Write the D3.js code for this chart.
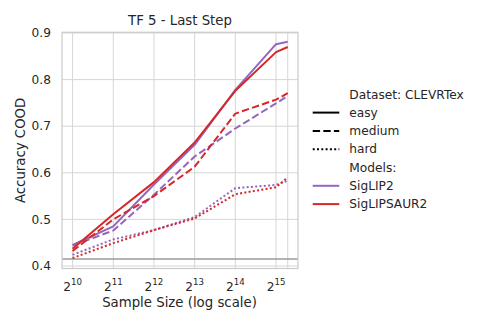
<!DOCTYPE html>
<html>
<head>
<meta charset="utf-8">
<script src="https://cdn.jsdelivr.net/npm/d3@7"></script>
<style>
  html, body { margin: 0; padding: 0; background: #fff; }
  svg { display: block; font-family: "DejaVu Sans", sans-serif; }
</style>
</head>
<body>
<svg id="chart" width="488" height="326"></svg>
<script>
const sampleSizes = [1024, 2048, 4096, 8192, 16384, 32768, 40000];
const xTickExponents = [10, 11, 12, 13, 14, 15];
const yTicks = [0.4, 0.5, 0.6, 0.7, 0.8, 0.9];
const baselineValue = 0.415;

const siglip2Easy   = [0.445, 0.485, 0.575, 0.660, 0.778, 0.876, 0.881];
const siglip2Medium = [0.444, 0.476, 0.553, 0.635, 0.695, 0.749, 0.765];
const siglip2Hard   = [0.424, 0.457, 0.477, 0.505, 0.567, 0.574, 0.583];
const saur2Easy     = [0.437, 0.511, 0.580, 0.665, 0.776, 0.859, 0.870];
const saur2Medium   = [0.432, 0.500, 0.550, 0.613, 0.727, 0.757, 0.771];
const saur2Hard     = [0.417, 0.449, 0.477, 0.502, 0.554, 0.569, 0.590];

const models = ["SigLIP2", "SigLIPSAUR2"];
const difficulties = ["easy", "medium", "hard"];
const modelColors = { "SigLIP2": "#9467bd", "SigLIPSAUR2": "#d62728" };
const dashes = { easy: null, medium: "7.4,3.2", hard: "2,2.3" };

const series = [
  { model: "SigLIP2", diff: "easy", values: siglip2Easy },
  { model: "SigLIP2", diff: "medium", values: siglip2Medium },
  { model: "SigLIP2", diff: "hard", values: siglip2Hard },
  { model: "SigLIPSAUR2", diff: "easy", values: saur2Easy },
  { model: "SigLIPSAUR2", diff: "medium", values: saur2Medium },
  { model: "SigLIPSAUR2", diff: "hard", values: saur2Hard },
];

const svg = d3.select("#chart");
const L = 62, R = 298, T = 32.3, B = 268.5;
const textColor = "#262626";
const tickFont = 12.2, labelFont = 13.3;

const x = d3.scaleLog().base(2).domain([Math.pow(2, 9.74), Math.pow(2, 15.54)]).range([L, R]);
const y = d3.scaleLinear().domain([0.3946, 0.9015]).range([B, T]);

// grid
const grid = svg.append("g");
grid.selectAll("line.gx").data(xTickExponents.map(e => Math.pow(2, e)).concat([sampleSizes[sampleSizes.length - 1]]))
  .enter().append("line")
  .attr("x1", d => x(d)).attr("x2", d => x(d)).attr("y1", T).attr("y2", B)
  .attr("stroke", "#d6d6d6").attr("stroke-width", 1);
grid.selectAll("line.gy").data(yTicks).enter().append("line")
  .attr("x1", L).attr("x2", R).attr("y1", d => y(d)).attr("y2", d => y(d))
  .attr("stroke", "#d6d6d6").attr("stroke-width", 1);

// baseline
svg.append("line")
  .attr("x1", L).attr("x2", R).attr("y1", y(baselineValue)).attr("y2", y(baselineValue))
  .attr("stroke", "#9a9a9a").attr("stroke-width", 1.5);

// lines
const line = d3.line().x((d, i) => x(sampleSizes[i])).y(d => y(d));
svg.append("clipPath").attr("id", "clip").append("rect")
  .attr("x", L).attr("y", T).attr("width", R - L).attr("height", B - T);
svg.append("g").attr("clip-path", "url(#clip)")
  .selectAll("path").data(series).enter().append("path")
  .attr("d", d => line(d.values))
  .attr("fill", "none")
  .attr("stroke", d => modelColors[d.model])
  .attr("stroke-width", 2)
  .attr("stroke-dasharray", d => dashes[d.diff])
  .attr("stroke-linejoin", "round");

// spines
svg.append("rect").attr("x", L).attr("y", T).attr("width", R - L).attr("height", B - T)
  .attr("fill", "none").attr("stroke", "#cccccc").attr("stroke-width", 1.25);

// y tick labels
svg.append("g").selectAll("text").data(yTicks).enter().append("text")
  .attr("x", L - 11).attr("y", d => y(d)).attr("dy", "0.35em")
  .attr("text-anchor", "end").attr("font-size", tickFont).attr("fill", textColor)
  .text(d => d.toFixed(1));

// x tick labels
const xt = svg.append("g").selectAll("text").data(xTickExponents).enter().append("text")
  .attr("x", d => x(Math.pow(2, d))).attr("y", 290.5)
  .attr("text-anchor", "middle").attr("font-size", tickFont).attr("fill", textColor);
xt.append("tspan").text("2");
xt.append("tspan").attr("font-size", 8.6).attr("dy", -5.8).text(d => d);

// axis labels & title
svg.append("text").attr("x", (L + R) / 2 - 0.5).attr("y", 306.5).attr("text-anchor", "middle")
  .attr("font-size", labelFont).attr("fill", textColor).text("Sample Size (log scale)");
svg.append("text").attr("transform", `translate(24.5,${(T + B) / 2}) rotate(-90)`)
  .attr("text-anchor", "middle").attr("font-size", labelFont).attr("fill", textColor).text("Accuracy COOD");
svg.append("text").attr("x", (L + R) / 2).attr("y", 24.5).attr("text-anchor", "middle")
  .attr("font-size", labelFont).attr("fill", textColor).text("TF 5 - Last Step");

// legend
const legendRows = [
  { label: "Dataset: CLEVRTex", handle: null },
  { label: "easy", handle: { color: "#000", dash: dashes.easy } },
  { label: "medium", handle: { color: "#000", dash: dashes.medium } },
  { label: "hard", handle: { color: "#000", dash: dashes.hard } },
  { label: "Models:", handle: null },
  { label: models[0], handle: { color: modelColors[models[0]], dash: null } },
  { label: models[1], handle: { color: modelColors[models[1]], dash: null } },
];
const lg = svg.append("g");
legendRows.forEach((r, i) => {
  const cy = 94.3 + i * 18.3;
  if (r.handle) {
    lg.append("line").attr("x1", 312.7).attr("x2", 339.3).attr("y1", cy).attr("y2", cy)
      .attr("stroke", r.handle.color).attr("stroke-width", 2)
      .attr("stroke-dasharray", r.handle.dash);
  }
  lg.append("text").attr("x", 349.3).attr("y", cy).attr("dy", "0.35em")
    .attr("font-size", tickFont).attr("fill", textColor).text(r.label);
});
</script>
</body>
</html>
